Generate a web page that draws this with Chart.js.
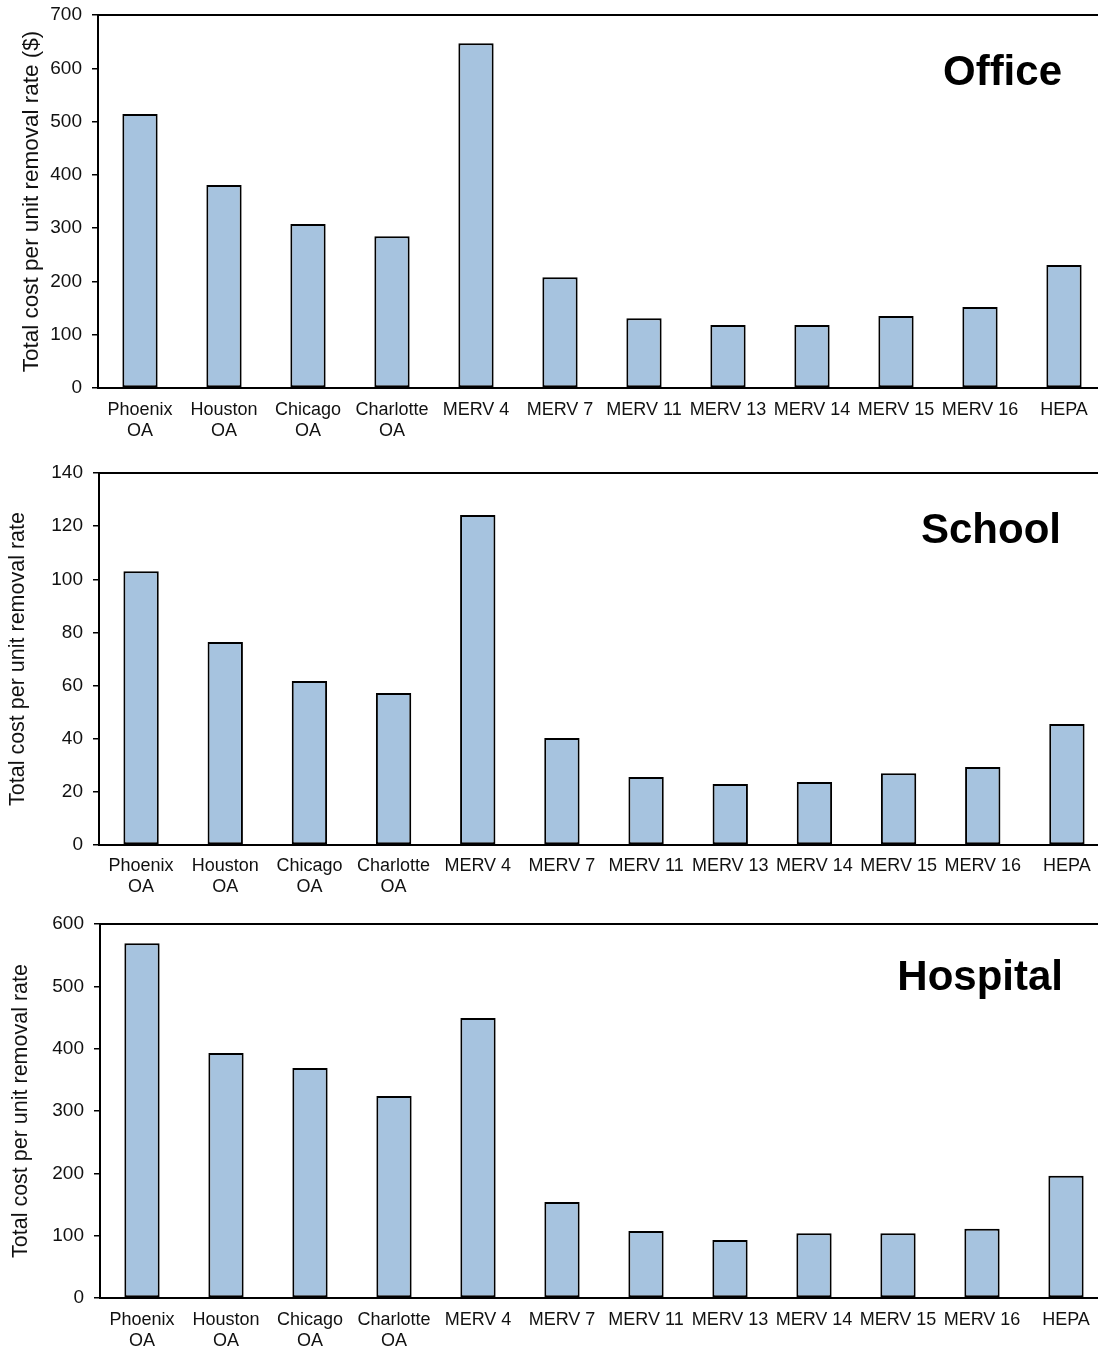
<!DOCTYPE html>
<html>
<head>
<meta charset="utf-8">
<script src="https://cdn.jsdelivr.net/npm/chart.js@4.4.1/dist/chart.umd.min.js"></script>
<style>
  html, body { margin: 0; padding: 0; background: #fff; overflow: hidden; width: 1098px; height: 1348px; }
  .wrap { position: absolute; left: 0; }
  canvas { display: block; }
</style>
</head>
<body>
<div class="wrap" style="top:0px"><canvas id="c1" width="1112" height="450"></canvas></div>
<div class="wrap" style="top:450px"><canvas id="c2" width="1112" height="455"></canvas></div>
<div class="wrap" style="top:905px"><canvas id="c3" width="1112" height="443"></canvas></div>
<script>
const categories = [["Phoenix","OA"],["Houston","OA"],["Chicago","OA"],["Charlotte","OA"],"MERV 4","MERV 7","MERV 11","MERV 13","MERV 14","MERV 15","MERV 16","HEPA"];
const officeValues   = [514, 381, 308, 285, 647, 208, 131, 118, 118, 135, 152, 231];
const schoolValues   = [103, 76.4, 61.7, 57.2, 124.2, 40.3, 25.6, 23, 23.7, 27, 29.4, 45.5];
const hospitalValues = [569, 393, 369, 324, 449, 154, 107.5, 93, 104, 104, 111, 196];
const officeTicks = {max: 700, step: 100};
const schoolTicks = {max: 140, step: 20};
const hospitalTicks = {max: 600, step: 100};

const FONT = "'Liberation Sans', Arial, sans-serif";
Chart.defaults.font.family = FONT;
Chart.defaults.color = '#111';

function makeChart(id, values, ticks, yTitle, titleText, cfg) {
  const topLinePlugin = {
    id: 'topline',
    afterDraw(chart) {
      const {ctx, chartArea} = chart;
      ctx.save();
      ctx.strokeStyle = '#000';
      ctx.lineWidth = 2;
      ctx.beginPath();
      ctx.moveTo(chartArea.left - 1, chartArea.top);
      ctx.lineTo(chart.width, chartArea.top);
      ctx.stroke();
      ctx.font = 'bold 42px ' + FONT;
      ctx.fillStyle = '#000';
      ctx.textAlign = 'right';
      ctx.textBaseline = 'alphabetic';
      ctx.fillText(titleText, cfg.titleX, cfg.titleY);
      ctx.restore();
    }
  };
  return new Chart(document.getElementById(id), {
    type: 'bar',
    data: {
      labels: categories,
      datasets: [{
        data: values,
        backgroundColor: '#A6C3DF',
        borderColor: '#000',
        borderWidth: 2,
        borderSkipped: false,
        barPercentage: 0.42,
        categoryPercentage: 1.0
      }]
    },
    options: {
      responsive: false,
      animation: false,
      devicePixelRatio: 1,
      layout: { padding: { left: 0, top: cfg.top, right: cfg.right, bottom: 0 } },
      plugins: { legend: { display: false }, tooltip: { enabled: false }, title: { display: false } },
      scales: {
        x: {
          offset: true,
          grid: { display: false, drawTicks: false, tickLength: 0 },
          border: { display: true, color: '#000', width: 2 },
          ticks: { autoSkip: false, maxRotation: 0, minRotation: 0, padding: cfg.xPad, color: '#111', font: { size: 18, family: FONT } },
          afterFit(s) { s.height = cfg.xHeight; s.paddingLeft = 0; s.paddingRight = 0; }
        },
        y: {
          min: 0, max: ticks.max,
          grid: { drawOnChartArea: false, drawTicks: true, tickLength: 6, color: '#000', lineWidth: 1.5 },
          border: { display: true, color: '#000', width: 2 },
          ticks: { stepSize: ticks.step, padding: 10, color: '#111', font: { size: 19, family: FONT } },
          title: { display: true, text: yTitle, color: '#111', font: { size: cfg.titleSize, family: FONT }, padding: { top: cfg.titlePad, bottom: 0 } },
          afterFit(s) { s.width = cfg.yWidth; s.paddingTop = 0; s.paddingBottom = 0; }
        }
      }
    },
    plugins: [topLinePlugin]
  });
}

makeChart('c1', officeValues, officeTicks, 'Total cost per unit removal rate ($)', 'Office',
  { top: 15, right: 1112 - 1106, xHeight: 62, xPad: 11, yWidth: 98, titleSize: 22.5, titlePad: 18, titleX: 1062, titleY: 85 });
makeChart('c2', schoolValues, schoolTicks, 'Total cost per unit removal rate', 'School',
  { top: 23, right: 1112 - 1109, xHeight: 60, xPad: 10, yWidth: 99, titleSize: 21.5, titlePad: 5, titleX: 1061, titleY: 93 });
makeChart('c3', hospitalValues, hospitalTicks, 'Total cost per unit removal rate', 'Hospital',
  { top: 19, right: 1112 - 1108, xHeight: 50, xPad: 11, yWidth: 100, titleSize: 21.5, titlePad: 8, titleX: 1063, titleY: 85 });
</script>
</body>
</html>
